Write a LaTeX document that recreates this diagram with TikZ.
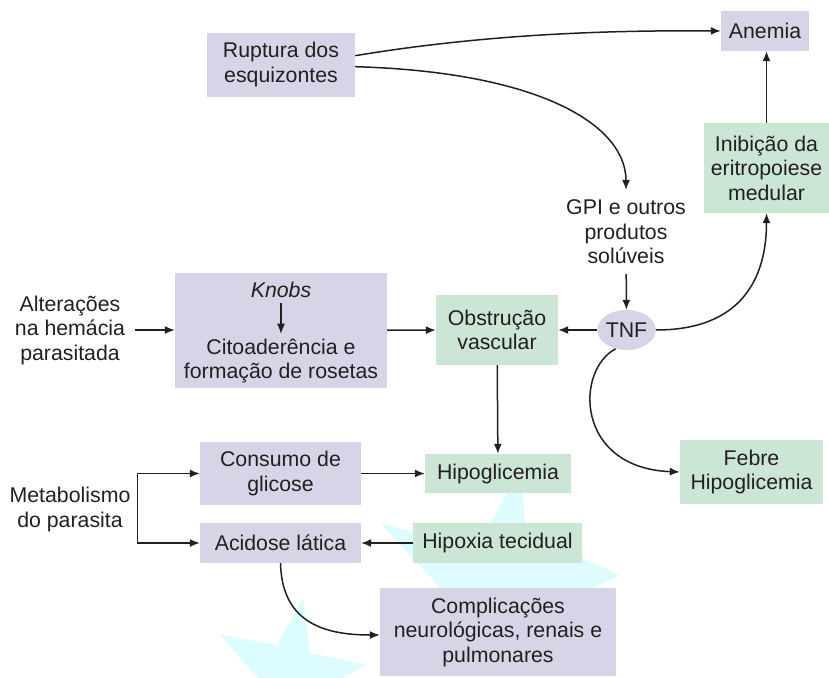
\documentclass[tikz,border=0pt]{standalone}
\usepackage{fontspec}
\setmainfont{Liberation Sans}
\usetikzlibrary{arrows.meta,shapes.geometric}

\definecolor{lilas}{HTML}{D6D5E7}
\definecolor{menta}{HTML}{CBE6D5}
\definecolor{agua}{HTML}{DCFCFD}
\definecolor{texto}{HTML}{231F20}

\tikzset{
  caixa/.style={fill=lilas, align=center, inner sep=0pt},
  caixav/.style={fill=menta, align=center, inner sep=0pt},
  solto/.style={align=center, inner sep=0pt, outer sep=5pt},
  seta/.style={-{Latex[length=10pt,width=8pt]}, line width=1.5pt, draw=texto},
}

\begin{document}
\begin{tikzpicture}[x=1pt, y=-1pt, text=texto, font=\fontsize{21.3}{24.5}\selectfont]
                \useasboundingbox (0,0) rectangle (829,677);

                %% marca d'agua
                \begin{scope}
                \clip (0,0) rectangle (829,677);
                \fill[agua] (520,470) -- (526,533) -- (620,575) -- (555,605) -- (530,660)
                            -- (480,615) -- (450,598) -- (380,523) -- (476,549) -- cycle;
                \fill[agua] (303,598) -- (310,653) -- (367,665) -- (320,690) -- (300,720)
                            -- (265,686) -- (220,635) -- (277,645) -- cycle;
                \end{scope}

                %% topo
                \node[caixa, minimum width=148pt, minimum height=64pt] (ruptura) at (281,64.7) {Ruptura dos\\esquizontes};
                \node[caixa, minimum width=88pt, minimum height=40pt] (anemia) at (765,31) {Anemia};
                \node[caixav, minimum width=125pt, minimum height=90pt] (inibicao) at (766.5,168) {Inibição da\\eritropoiese\\medular};
                \node[solto, outer sep=10pt] (gpi) at (626,232) {GPI e outros\\produtos\\solúveis};

                %TNF
                \node[ellipse, fill=lilas, inner sep=0pt, minimum width=57pt, minimum height=40pt] (tnf) at (626.5,330) {TNF};

                %% meio
                \node[solto, outer xsep=10pt] (alteracoes) at (70,330) {Alterações\\na hemácia\\parasitada};
                \node[caixa, minimum width=212pt, minimum height=115pt] (cito) at (281,330.4) {};
                \node[solto] (knobs) at (281,290) {\textit{Knobs}};
                \node[solto] (citotxt) at (281,361) {Citoaderência e\\formação de rosetas};
                \node[caixav, minimum width=122pt, minimum height=70pt] (obstrucao) at (497,330) {Obstrução\\vascular};

                %% baixo
                \node[solto] (metabolismo) at (70,509.5) {Metabolismo\\do parasita};
                \coordinate (garfo) at (137.7,508);
                \node[caixa, minimum width=161pt, minimum height=63pt] (consumo) at (280.5,473.5) {Consumo de\\glicose};
                \node[caixa, minimum width=161pt, minimum height=40pt] (acidose) at (280.5,543) {Acidose lática};
                \node[caixav, minimum width=146pt, minimum height=39pt] (hipoglicemia) at (498,473.5) {Hipoglicemia};
                \node[caixav, minimum width=169pt, minimum height=40pt] (hipoxia) at (497.5,543) {Hipoxia tecidual};
                \node[caixav, minimum width=143pt, minimum height=64pt] (febre) at (751.5,472) {Febre\\Hipoglicemia};
                \node[caixa, minimum width=236pt, minimum height=88pt] (complicacoes) at (498,632) {Complicações\\neurológicas, renais e\\pulmonares};

                %% setas
                \draw[seta] ([yshift=9pt]ruptura.east) .. controls (480,35) and (600,30) .. (anemia.west);
                \draw[seta] ([yshift=-2pt]ruptura.east) .. controls (540,72) and (626,125) .. (gpi.north);
                \draw[seta] (gpi) -- (tnf);
                \draw[seta] (tnf) -- (obstrucao);
                \draw[seta] (tnf.east) .. controls (740,330) and (766.5,280) .. (inibicao.south);
                \draw[seta] (tnf.240) .. controls (575,370) and (575,468) .. (febre.west);
                \draw[seta] (inibicao) -- (inibicao |- anemia.south);

                \draw[seta] (alteracoes) -- (alteracoes -| cito.west);
                \draw[seta, line width=1.2pt] (knobs) -- (citotxt);
                \draw[seta] (cito) -- (obstrucao);
                \draw[seta] (obstrucao) -- (hipoglicemia);

                \draw[seta] (garfo) |- (consumo);
                \draw[seta] (garfo) |- (acidose);
                \draw[seta] (consumo) -- (hipoglicemia);
                \draw[seta] (hipoxia) -- (acidose);
                \draw[seta] (acidose.south) .. controls (282,620) and (320,635) .. ([yshift=-3pt]complicacoes.west);

            \end{tikzpicture}
\end{document}
